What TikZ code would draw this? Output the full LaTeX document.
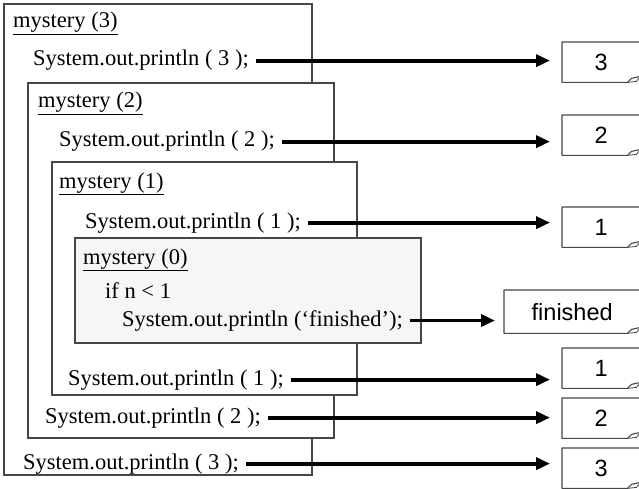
\documentclass[tikz,border=0pt]{standalone}
\usepackage{fontspec}
\setmainfont{Liberation Serif}
\newfontfamily\boxfont{Liberation Sans}
\usetikzlibrary{arrows.meta,positioning,calc}
\definecolor{framegray}{RGB}{70,70,70}
\definecolor{basegray}{RGB}{246,246,246}

\begin{document}
\begin{tikzpicture}[x=1pt,y=-1pt,
    code/.style={anchor=base west,inner sep=0pt,font=\fontsize{22.5}{27}\selectfont},
    frame/.style={draw=framegray,line width=1.2pt,fill=white},
    outbox/.style={anchor=north west,inner sep=0pt,minimum width=78pt,minimum height=40pt,
      font=\boxfont\fontsize{23.5}{27}\selectfont},
    flow/.style={line width=3.8pt,-{Triangle[length=14pt,width=12pt]},shorten <=7pt,shorten >=12pt}]
  \useasboundingbox (0,0) rectangle (639,489);

  % nested calls, outermost first
  \draw[frame] (4,4) rectangle (312,475);
  \draw[frame] (28,83) rectangle (334,438);
  \draw[frame] (52,162) rectangle (357,395);
  \draw[frame,fill=basegray] (75,238) rectangle (421,343);

  % code lines
  \node[code] (l3) at (13,28) {\underline{mystery (3)}};
  \node[code] (p3a) at (33,66) {System.out.println ( 3 );};
  \node[code] (l2) at (38,108) {\underline{mystery (2)}};
  \node[code] (p2a) at (59,147) {System.out.println ( 2 );};
  \node[code] (l1) at (59,188) {\underline{mystery (1)}};
  \node[code] (p1a) at (85,228) {System.out.println ( 1 );};
  \node[code] (l0) at (83,264) {\underline{mystery (0)}};
  \node[code] (cond) at (105,298) {if n < 1};
  \node[code] (pfin) at (122,326) {System.out.println (`finished');};
  \node[code] (p1b) at (68,385) {System.out.println ( 1 );};
  \node[code] (p2b) at (45,423) {System.out.println ( 2 );};
  \node[code] (p3b) at (23,469) {System.out.println ( 3 );};

  % printed output
  \node[outbox] (o3a) at (562,42) {3};
  \node[outbox] (o2a) at (562,115) {2};
  \node[outbox] (o1a) at (562,207) {1};
  \node[outbox,minimum width=136pt,minimum height=43pt] (ofin) at (504,290) {finished};
  \node[outbox] (o1b) at (562,348) {1};
  \node[outbox] (o2b) at (562,398) {2};
  \node[outbox] (o3b) at (562,448) {3};
  \foreach \b in {o3a,o2a,o1a,ofin,o1b,o2b,o3b}{
    \draw[framegray,line width=1.1pt,line join=round]
      (\b.south east) ++(0pt,6pt) -- (\b.north east) -- (\b.north west) -- (\b.south west)
      -- ([xshift=-13pt]\b.south east) -- ++(4pt,4pt) -- ++(9pt,2pt);
    \draw[framegray,line width=0.8pt] ([xshift=-13pt]\b.south east) -- ++(9pt,1pt) -- ++(4pt,5pt);
  }

  \draw[flow] (p3a.east) -- (p3a.east -| o3a.west);
  \draw[flow] (p2a.east) -- (p2a.east -| o2a.west);
  \draw[flow] (p1a.east) -- (p1a.east -| o1a.west);
  \draw[flow,shorten >=9pt] (pfin.east) -- (pfin.east -| ofin.west);
  \draw[flow] (p1b.east) -- (p1b.east -| o1b.west);
  \draw[flow] (p2b.east) -- (p2b.east -| o2b.west);
  \draw[flow] (p3b.east) -- (p3b.east -| o3b.west);
\end{tikzpicture}
\end{document}
